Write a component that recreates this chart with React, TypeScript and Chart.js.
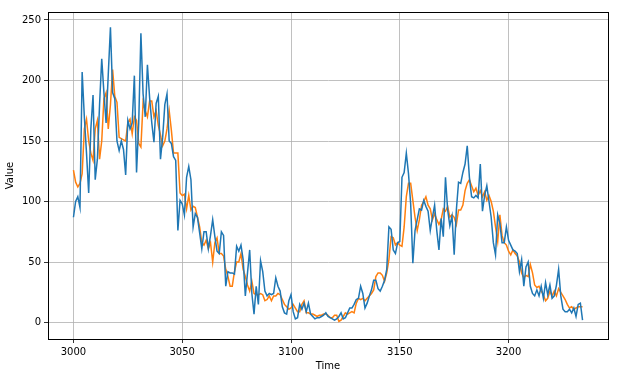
import React, { useEffect, useRef } from "react";
import { Chart, registerables } from "chart.js";

Chart.register(...registerables);

const startTime = 3000;

const seriesValues: number[] = [
  87, 100, 104, 95, 207, 170, 140, 107, 160, 188,
  118, 135, 180, 218, 190, 165, 205, 244, 190, 185,
  150, 142, 150, 143, 122, 167, 160, 165, 204, 124,
  165, 239, 189, 170, 213, 186, 165, 149, 181, 187,
  135, 153, 180, 189, 150, 148, 137, 134, 76, 101,
  98, 89, 120, 129, 118, 79, 90, 87, 74, 61,
  75, 75, 61, 72, 85, 71, 59, 57, 75, 72,
  30, 42, 41, 41, 40, 63, 59, 64, 52, 22,
  41, 60, 24, 7, 30, 15, 51, 42, 26, 22,
  24, 23, 24, 37, 30, 26, 13, 8, 7, 18,
  23, 9, 3, 4, 15, 11, 16, 9, 16, 7,
  5, 3, 4, 4, 5, 6, 8, 5, 4, 3,
  2, 3, 5, 8, 3, 4, 8, 12, 12, 15,
  19, 20, 30, 24, 12, 16, 22, 27, 35, 35,
  28, 26, 30, 35, 44, 79, 77, 60, 57, 66,
  67, 120, 124, 140, 123, 98, 49, 76, 85, 94,
  93, 101, 96, 92, 76, 87, 97, 76, 60, 86,
  71, 120, 93, 80, 88, 56, 93, 116, 115, 124,
  131, 146, 120, 104, 103, 105, 103, 131, 92, 105,
  113, 100, 87, 66, 56, 89, 82, 66, 66, 79,
  68, 64, 60, 59, 57, 42, 52, 30, 46, 50,
  30, 24, 22, 27, 22, 30, 20, 33, 23, 31,
  20, 22, 31, 44, 22, 11, 9, 9, 11, 8,
  12, 5, 15, 16, 2,
];

const forecastValues: number[] = [
  126, 116, 112, 115, 123, 160, 168, 150, 140, 134,
  160, 167, 135, 150, 185, 190, 160, 180, 209, 187,
  182, 153, 152, 151, 150, 165, 168, 156, 170, 167,
  148, 145, 182, 175, 170, 183, 183, 170, 175, 163,
  155, 146, 150, 160, 175, 159, 140, 140, 140, 107,
  105, 106, 94, 105, 93, 96, 95, 87, 79, 66,
  64, 68, 61, 66, 50, 66, 70, 57, 57, 55,
  44, 38, 30, 30, 42, 50, 50, 57, 44, 38,
  31, 26, 34, 24, 23, 23, 24, 23, 18, 19,
  22, 18, 22, 22, 24, 23, 19, 15, 13, 11,
  12, 15, 12, 9, 9, 15, 18, 8, 8, 7,
  7, 6, 5, 6, 6, 7, 7, 6, 4, 4,
  6, 6, 1, 2, 5, 8, 7, 8, 9, 8,
  16, 20, 19, 20, 18, 20, 22, 24, 27, 38,
  41, 41, 39, 34, 41, 52, 71, 70, 64, 66,
  64, 63, 79, 104, 115, 115, 101, 87, 76, 85,
  97, 100, 104, 97, 94, 85, 90, 85, 81, 85,
  94, 92, 96, 87, 89, 87, 81, 93, 93, 97,
  109, 115, 118, 113, 108, 111, 105, 109, 104, 108,
  101, 105, 100, 92, 79, 67, 89, 72, 66, 64,
  59, 56, 60, 57, 55, 50, 41, 37, 39, 38,
  48, 41, 31, 29, 30, 26, 23, 18, 20, 26,
  22, 26, 22, 28, 25, 22, 19, 15, 12, 13,
  11, 12, 13, 13, 13,
];

const xTickValues = [3000, 3050, 3100, 3150, 3200];
const yTickValues = [0, 50, 100, 150, 200, 250];

const FONT = "'DejaVu Sans', sans-serif";

export default function App() {
  const canvasRef = useRef<HTMLCanvasElement | null>(null);

  useEffect(() => {
    document.body.style.margin = "0";
    const canvas = canvasRef.current;
    if (!canvas) return;

    const toPoints = (vals: number[]) => vals.map((v, i) => ({ x: startTime + i, y: v }));

    const framePlugin = {
      id: "frame",
      afterDatasetsDraw(chart: any) {
        const { ctx, chartArea } = chart;
        ctx.save();
        ctx.strokeStyle = "#000";
        ctx.lineWidth = 1;
        ctx.strokeRect(
          Math.round(chartArea.left) + 0.5,
          Math.round(chartArea.top) + 0.5,
          Math.round(chartArea.right - chartArea.left),
          Math.round(chartArea.bottom - chartArea.top)
        );
        ctx.restore();
      },
    };

    const chart = new Chart(canvas, {
      type: "line",
      data: {
        datasets: [
          {
            data: toPoints(seriesValues),
            borderColor: "#1f77b4",
            borderWidth: 1.5,
            pointRadius: 0,
            tension: 0,
            fill: false,
          },
          {
            data: toPoints(forecastValues),
            borderColor: "#ff7f0e",
            borderWidth: 1.5,
            pointRadius: 0,
            tension: 0,
            fill: false,
          },
        ],
      },
      options: {
        responsive: false,
        animation: false,
        devicePixelRatio: 1,
        layout: { padding: { top: 12, right: 10, left: 0, bottom: 0 } },
        plugins: {
          legend: { display: false },
          tooltip: { enabled: false },
        },
        scales: {
          x: {
            type: "linear",
            min: 2988.3,
            max: 3245.7,
            afterBuildTicks: (scale: any) => {
              scale.ticks = xTickValues.map((v) => ({ value: v }));
            },
            afterFit: (scale: any) => {
              scale.height = 37;
            },
            ticks: {
              font: { family: FONT, size: 10 },
              color: "#000",
              padding: 3,
              maxRotation: 0,
              callback: (v: any) => String(v),
            },
            grid: {
              color: "#b0b0b0",
              lineWidth: 0.8,
              tickColor: "#000",
              tickLength: 4,
            },
            border: { display: true, color: "#000", width: 1 },
            title: {
              display: true,
              text: "Time",
              font: { family: FONT, size: 10 },
              color: "#000",
              padding: { top: 2, bottom: 4 },
            },
          },
          y: {
            type: "linear",
            min: -13.6,
            max: 256.6,
            afterBuildTicks: (scale: any) => {
              scale.ticks = yTickValues.map((v) => ({ value: v }));
            },
            afterFit: (scale: any) => {
              scale.width = 48;
            },
            ticks: {
              font: { family: FONT, size: 10 },
              color: "#000",
              padding: 3,
              callback: (v: any) => String(v),
            },
            grid: {
              color: "#b0b0b0",
              lineWidth: 0.8,
              tickColor: "#000",
              tickLength: 4,
            },
            border: { display: true, color: "#000", width: 1 },
            title: {
              display: true,
              text: "Value",
              font: { family: FONT, size: 10 },
              color: "#000",
              padding: { top: 4, bottom: 4 },
            },
          },
        },
      },
      plugins: [framePlugin],
    });

    return () => chart.destroy();
  }, []);

  return (
    <div style={{ width: 618, height: 376, background: "#fff" }}>
      <canvas ref={canvasRef} width={618} height={376} />
    </div>
  );
}
